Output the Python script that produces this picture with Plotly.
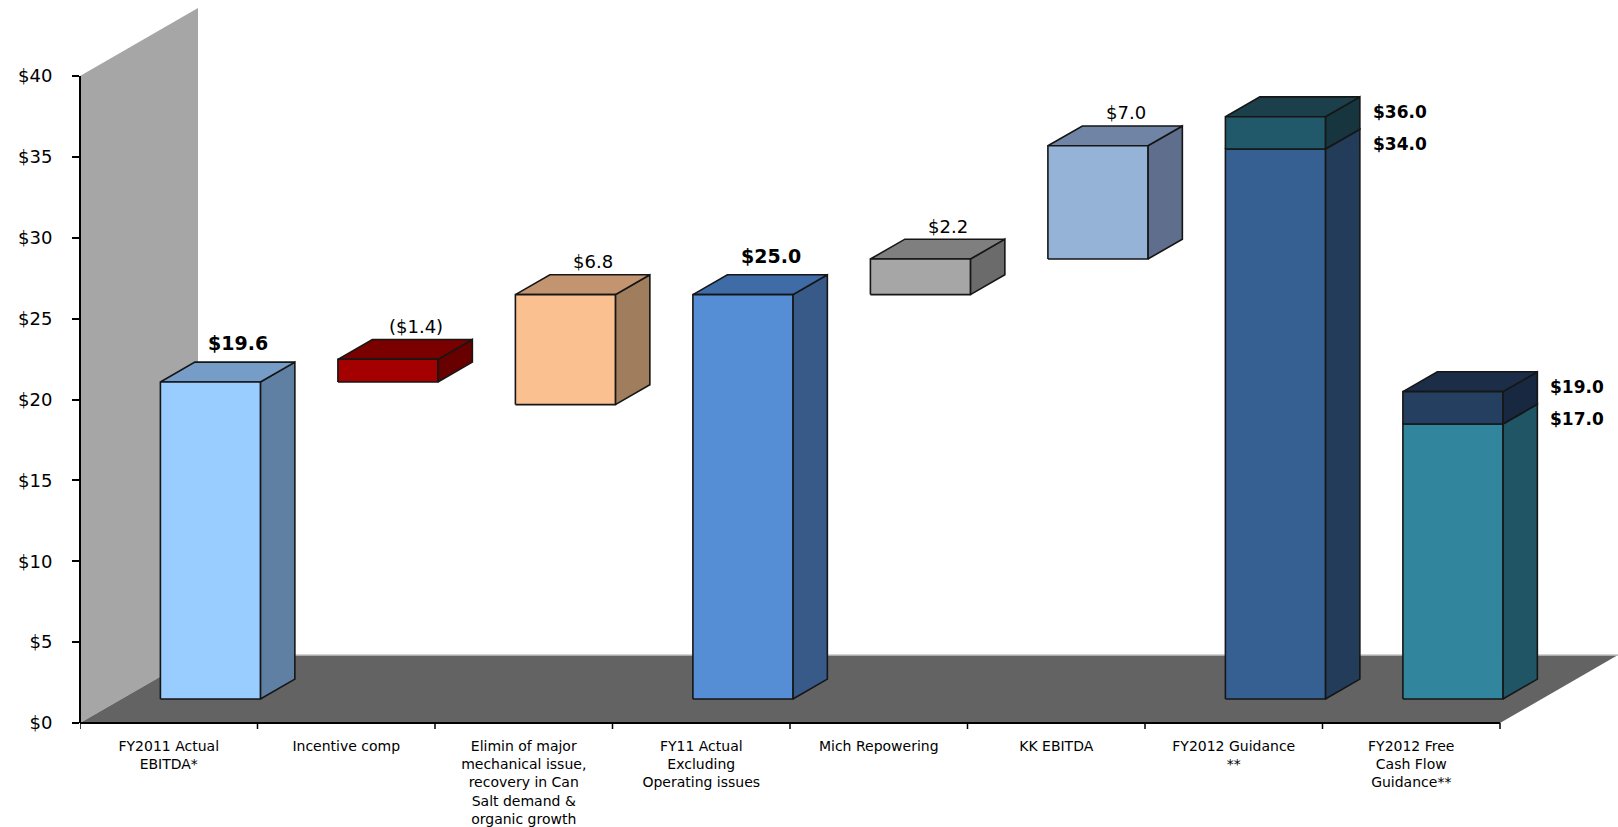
import plotly.graph_objects as go

# ---------------- data ----------------
categories = [
    "FY2011 Actual<br>EBITDA*",
    "Incentive comp",
    "Elimin of major<br>mechanical issue,<br>recovery in Can<br>Salt demand &<br>organic growth",
    "FY11 Actual<br>Excluding<br>Operating issues",
    "Mich Repowering",
    "KK EBITDA",
    "FY2012 Guidance<br>**",
    "FY2012 Free<br>Cash Flow<br>Guidance**",
]
step_values = [19.6, -1.4, 6.8, 25.0, 2.2, 7.0, 34.0, 17.0]
step_kinds = ["total", "delta", "delta", "total", "delta", "delta", "total", "total"]
range_high = [None, None, None, None, None, None, 36.0, 19.0]
value_labels = ["$19.6", "($1.4)", "$6.8", "$25.0", "$2.2", "$7.0", None, None]
value_label_bold = [True, False, False, True, False, False, False, False]
range_low_labels = [None, None, None, None, None, None, "$34.0", "$17.0"]
range_high_labels = [None, None, None, None, None, None, "$36.0", "$19.0"]
y_ticks = [0, 5, 10, 15, 20, 25, 30, 35, 40]
y_tick_labels = ["$0", "$5", "$10", "$15", "$20", "$25", "$30", "$35", "$40"]

# ---------------- styles ----------------
front_colors = ["#99CCFF", "#A50000", "#FAC090", "#558ED5", "#A6A6A6", "#95B3D7", "#376092", "#31859C"]
top_colors = ["#769CC8", "#7A0000", "#C39470", "#3F6BA6", "#7F7F7F", "#7085A6", "#2B4A70", "#24677A"]
side_colors = ["#5F80A3", "#690000", "#A07D5D", "#375A88", "#6B6B6B", "#5E6E8C", "#233C5A", "#1F5565"]
range_front = {6: "#22596A", 7: "#243F5F"}
range_top = {6: "#1B3F4B", 7: "#1C2E47"}
range_side = {6: "#17353E", 7: "#172840"}
EDGE = "#161616"
WALL = "#A6A6A6"
FLOOR = "#636363"
FONT = "DejaVu Sans"

# geometry (pixel based oblique projection expressed in axis units)
PX_X = 177.5
PX_Y = 16.175
DEPTH_X = 118 / PX_X
DEPTH_Y = 68 / PX_Y
F0, F1 = 0.353, 0.645
BAR_W = 100 / PX_X
N = len(categories)
X_MAX = (1618 - 80) / PX_X
Y_MAX = 723 / PX_Y

fig = go.Figure()


def poly(xs, ys, fill, lw=1.6, lc=EDGE):
    fig.add_trace(go.Scatter(
        x=list(xs) + [xs[0]], y=list(ys) + [ys[0]], mode="lines", fill="toself",
        fillcolor=fill, line=dict(color=lc, width=lw), hoverinfo="skip", showlegend=False))


# back wall and floor
ymax_tick = y_ticks[-1]
poly([0, 0, DEPTH_X, DEPTH_X], [0, ymax_tick, ymax_tick + DEPTH_Y, DEPTH_Y], WALL, lw=0, lc=WALL)
poly([0, N, N + DEPTH_X, DEPTH_X], [0, 0, DEPTH_Y, DEPTH_Y], FLOOR, lw=0, lc=FLOOR)
fig.add_trace(go.Scatter(x=[DEPTH_X, N + DEPTH_X], y=[DEPTH_Y, DEPTH_Y], mode="lines",
                         line=dict(color="#C4C4C4", width=1.5), hoverinfo="skip", showlegend=False))


def box(i, lo, hi, fc, tc, sc, draw_top=True):
    x0 = i + 0.5 + F0 * DEPTH_X - BAR_W / 2
    x1 = x0 + BAR_W
    y0 = lo + F0 * DEPTH_Y
    y1 = hi + F0 * DEPTH_Y
    dx = (F1 - F0) * DEPTH_X
    dy = (F1 - F0) * DEPTH_Y
    poly([x1, x1 + dx, x1 + dx, x1], [y0, y0 + dy, y1 + dy, y1], sc)
    if draw_top:
        poly([x0, x1, x1 + dx, x0 + dx], [y1, y1, y1 + dy, y1 + dy], tc)
    poly([x0, x1, x1, x0], [y0, y0, y1, y1], fc)
    return x0, x1, dx, dy


annotations = []
running = 0.0
for i in range(N):
    v = step_values[i]
    if step_kinds[i] == "total":
        lo, hi = 0.0, v
        running = v
    else:
        lo, hi = running, running + abs(v)
        running += v
    has_range = range_high[i] is not None
    x0, x1, dx, dy = box(i, lo, hi, front_colors[i], top_colors[i], side_colors[i], draw_top=not has_range)
    if has_range:
        box(i, hi, range_high[i], range_front[i], range_top[i], range_side[i])
        for val, txt in ((hi, range_low_labels[i]), (range_high[i], range_high_labels[i])):
            annotations.append(dict(
                x=x1 + dx, y=val + F0 * DEPTH_Y, xref="x", yref="y", text="<b>%s</b>" % txt,
                showarrow=False, xanchor="left", yanchor="middle", xshift=11, yshift=5,
                font=dict(family=FONT, size=17, color="#000000")))
    if value_labels[i]:
        bold = value_label_bold[i]
        annotations.append(dict(
            x=(x0 + x1) / 2 + 28 / PX_X, y=hi + F1 * DEPTH_Y, xref="x", yref="y",
            text=("<b>%s</b>" % value_labels[i]) if bold else value_labels[i],
            showarrow=False, xanchor="center", yanchor="middle", yshift=19 if bold else 13,
            font=dict(family=FONT, size=19 if bold else 18, color="#000000")))

# axis lines and category boundary ticks
shapes = [
    dict(type="line", xref="paper", yref="y", x0=0, x1=0, y0=0, y1=ymax_tick,
         line=dict(color="#000000", width=2)),
    dict(type="line", xref="x", yref="paper", x0=0, x1=N, y0=0, y1=0,
         line=dict(color="#000000", width=2.2)),
]
for k in range(N + 1):
    shapes.append(dict(type="line", xref="x", yref="paper", x0=k, x1=k, y0=0, y1=-6 / 723,
                       line=dict(color="#000000", width=1.5)))

fig.update_layout(
    width=1618, height=827,
    margin=dict(l=80, r=0, t=0, b=104, autoexpand=False),
    paper_bgcolor="#FFFFFF", plot_bgcolor="rgba(0,0,0,0)",
    showlegend=False,
    shapes=shapes,
    annotations=annotations,
    xaxis=dict(range=[0, X_MAX], tickmode="array", tickvals=[i + 0.5 for i in range(N)],
               ticktext=categories, ticks="", showline=False, showgrid=False, zeroline=False,
               tickfont=dict(family=FONT, size=14, color="#000000"), ticklabelstandoff=13,
               automargin=False, fixedrange=True),
    yaxis=dict(range=[0, Y_MAX], tickmode="array", tickvals=y_ticks, ticktext=y_tick_labels,
               ticks="outside", ticklen=7, tickwidth=1.5, tickcolor="#000000",
               showline=False, showgrid=False, zeroline=False,
               tickfont=dict(family=FONT, size=18, color="#000000"), ticklabelstandoff=16,
               automargin=False, fixedrange=True),
)

fig.write_html("out.html")
